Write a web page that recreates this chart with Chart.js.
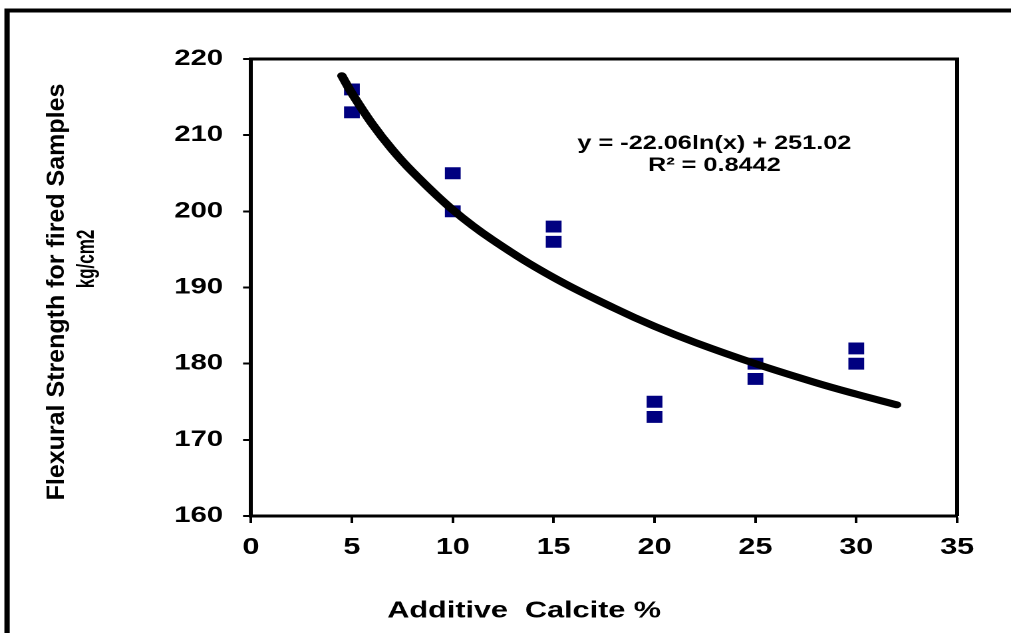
<!DOCTYPE html>
<html>
<head>
<meta charset="utf-8">
<script src="https://cdn.jsdelivr.net/npm/chart.js@4.4.1/dist/chart.umd.min.js"></script>
<style>
  html, body { margin: 0; padding: 0; background: #ffffff; overflow: hidden; }
  #wrap { position: absolute; left: 0; top: 0; width: 760px; height: 633px;
          transform: scaleX(1.3303); transform-origin: 0 0; }
</style>
</head>
<body>
<div id="wrap"><canvas id="c"></canvas></div>
<script>
// ---- data ----
const calciteX   = [5, 5, 10, 10, 15, 15, 20, 20, 25, 25, 30, 30];
const strength   = [216, 213, 205, 200, 198, 196, 175, 173, 180, 178, 182, 180];
const trendX     = [4.5, 5, 6, 7, 8, 10, 12, 15, 18, 20, 22, 25, 28, 30, 32];
const trendY     = [217.8, 215.5, 211.5, 208.1, 205.2, 200.2, 196.2, 191.3, 187.3, 184.9, 182.8, 180.0, 177.5, 176.0, 174.6];
const xTickRange = [0, 35, 5];
const yTickRange = [160, 220, 10];
const xTitle     = 'Additive  Calcite %';
const yTitle     = ['Flexural Strength for fired Samples', 'kg/cm2'];
const equation   = ['y = -22.06ln(x) + 251.02', 'R\u00B2 = 0.8442'];

const S = 1011 / 760;          // horizontal stretch of the reference picture
const FONT = '"Liberation Sans", Arial, sans-serif';

const decor = {
  id: 'decor',
  afterDraw(chart) {
    const ctx = chart.ctx;
    const a = chart.chartArea;
    ctx.save();
    // outer frame
    ctx.strokeStyle = '#000';
    ctx.lineWidth = 4;
    ctx.beginPath();
    ctx.moveTo(5.3, 700);
    ctx.lineTo(5.3, 10.5);
    ctx.lineTo(900, 10.5);
    ctx.stroke();
    // plot area box (top & right)
    ctx.lineWidth = 3;
    ctx.beginPath();
    ctx.moveTo(a.left, a.top);
    ctx.lineTo(a.right, a.top);
    ctx.lineTo(a.right, a.bottom);
    ctx.stroke();

    ctx.fillStyle = '#000';
    ctx.textAlign = 'center';
    ctx.textBaseline = 'middle';
    // equation
    ctx.font = 'bold 19px ' + FONT;
    ctx.fillText(equation[0], 537, 144);
    ctx.fillText(equation[1], 537, 166);
    // x title
    ctx.font = 'bold 23px ' + FONT;
    ctx.fillText(xTitle, 394, 611);
    // y title
    ctx.font = 'bold 25px ' + FONT;
    const k = 0.72;
    ctx.save();
    ctx.translate(57.5 / S, 292);
    ctx.rotate(-Math.PI / 2);
    ctx.scale(1, k);
    ctx.fillText(yTitle[0], 0, 0);
    ctx.restore();
    ctx.save();
    ctx.translate(87 / S, 259);
    ctx.rotate(-Math.PI / 2);
    ctx.scale(0.68, k);
    ctx.fillText(yTitle[1], 0, 0);
    ctx.restore();
    ctx.restore();
  }
};

new Chart(document.getElementById('c'), {
  type: 'scatter',
  data: {
    datasets: [
      {
        label: 'Log trend',
        data: trendX.map((x, i) => ({ x: x, y: trendY[i] })),
        showLine: true,
        borderColor: '#000000',
        borderWidth: 7,
        pointRadius: 0,
        tension: 0.4,
        borderCapStyle: 'round',
        order: 0
      },
      {
        label: 'Flexural strength',
        data: calciteX.map((x, i) => ({ x: x, y: strength[i] })),
        pointStyle: 'rect',
        pointRadius: 8.4,
        pointBackgroundColor: '#000080',
        pointBorderColor: '#000080',
        pointBorderWidth: 0,
        order: 1
      }
    ]
  },
  options: {
    responsive: true,
    maintainAspectRatio: false,
    devicePixelRatio: 2,
    animation: false,
    layout: { padding: { top: 59, right: 40.5, left: 0, bottom: 0 } },
    plugins: { legend: { display: false }, tooltip: { enabled: false } },
    scales: {
      x: {
        type: 'linear',
        min: xTickRange[0], max: xTickRange[1],
        afterFit(s) { s.height = 117; },
        ticks: { stepSize: xTickRange[2], color: '#000', padding: 11,
                 font: { family: FONT, weight: 'bold', size: 23 } },
        grid: { drawOnChartArea: false, drawTicks: true, tickLength: 7,
                tickColor: '#000', tickWidth: 2 },
        border: { color: '#000', width: 3 }
      },
      y: {
        type: 'linear',
        min: yTickRange[0], max: yTickRange[1],
        afterFit(s) { s.width = 188.7; },
        ticks: { stepSize: yTickRange[2], color: '#000', padding: 15,
                 font: { family: FONT, weight: 'bold', size: 22 } },
        grid: { drawOnChartArea: false, drawTicks: true, tickLength: 6,
                tickColor: '#000', tickWidth: 2 },
        border: { color: '#000', width: 3 }
      }
    }
  },
  plugins: [decor]
});
</script>
</body>
</html>
